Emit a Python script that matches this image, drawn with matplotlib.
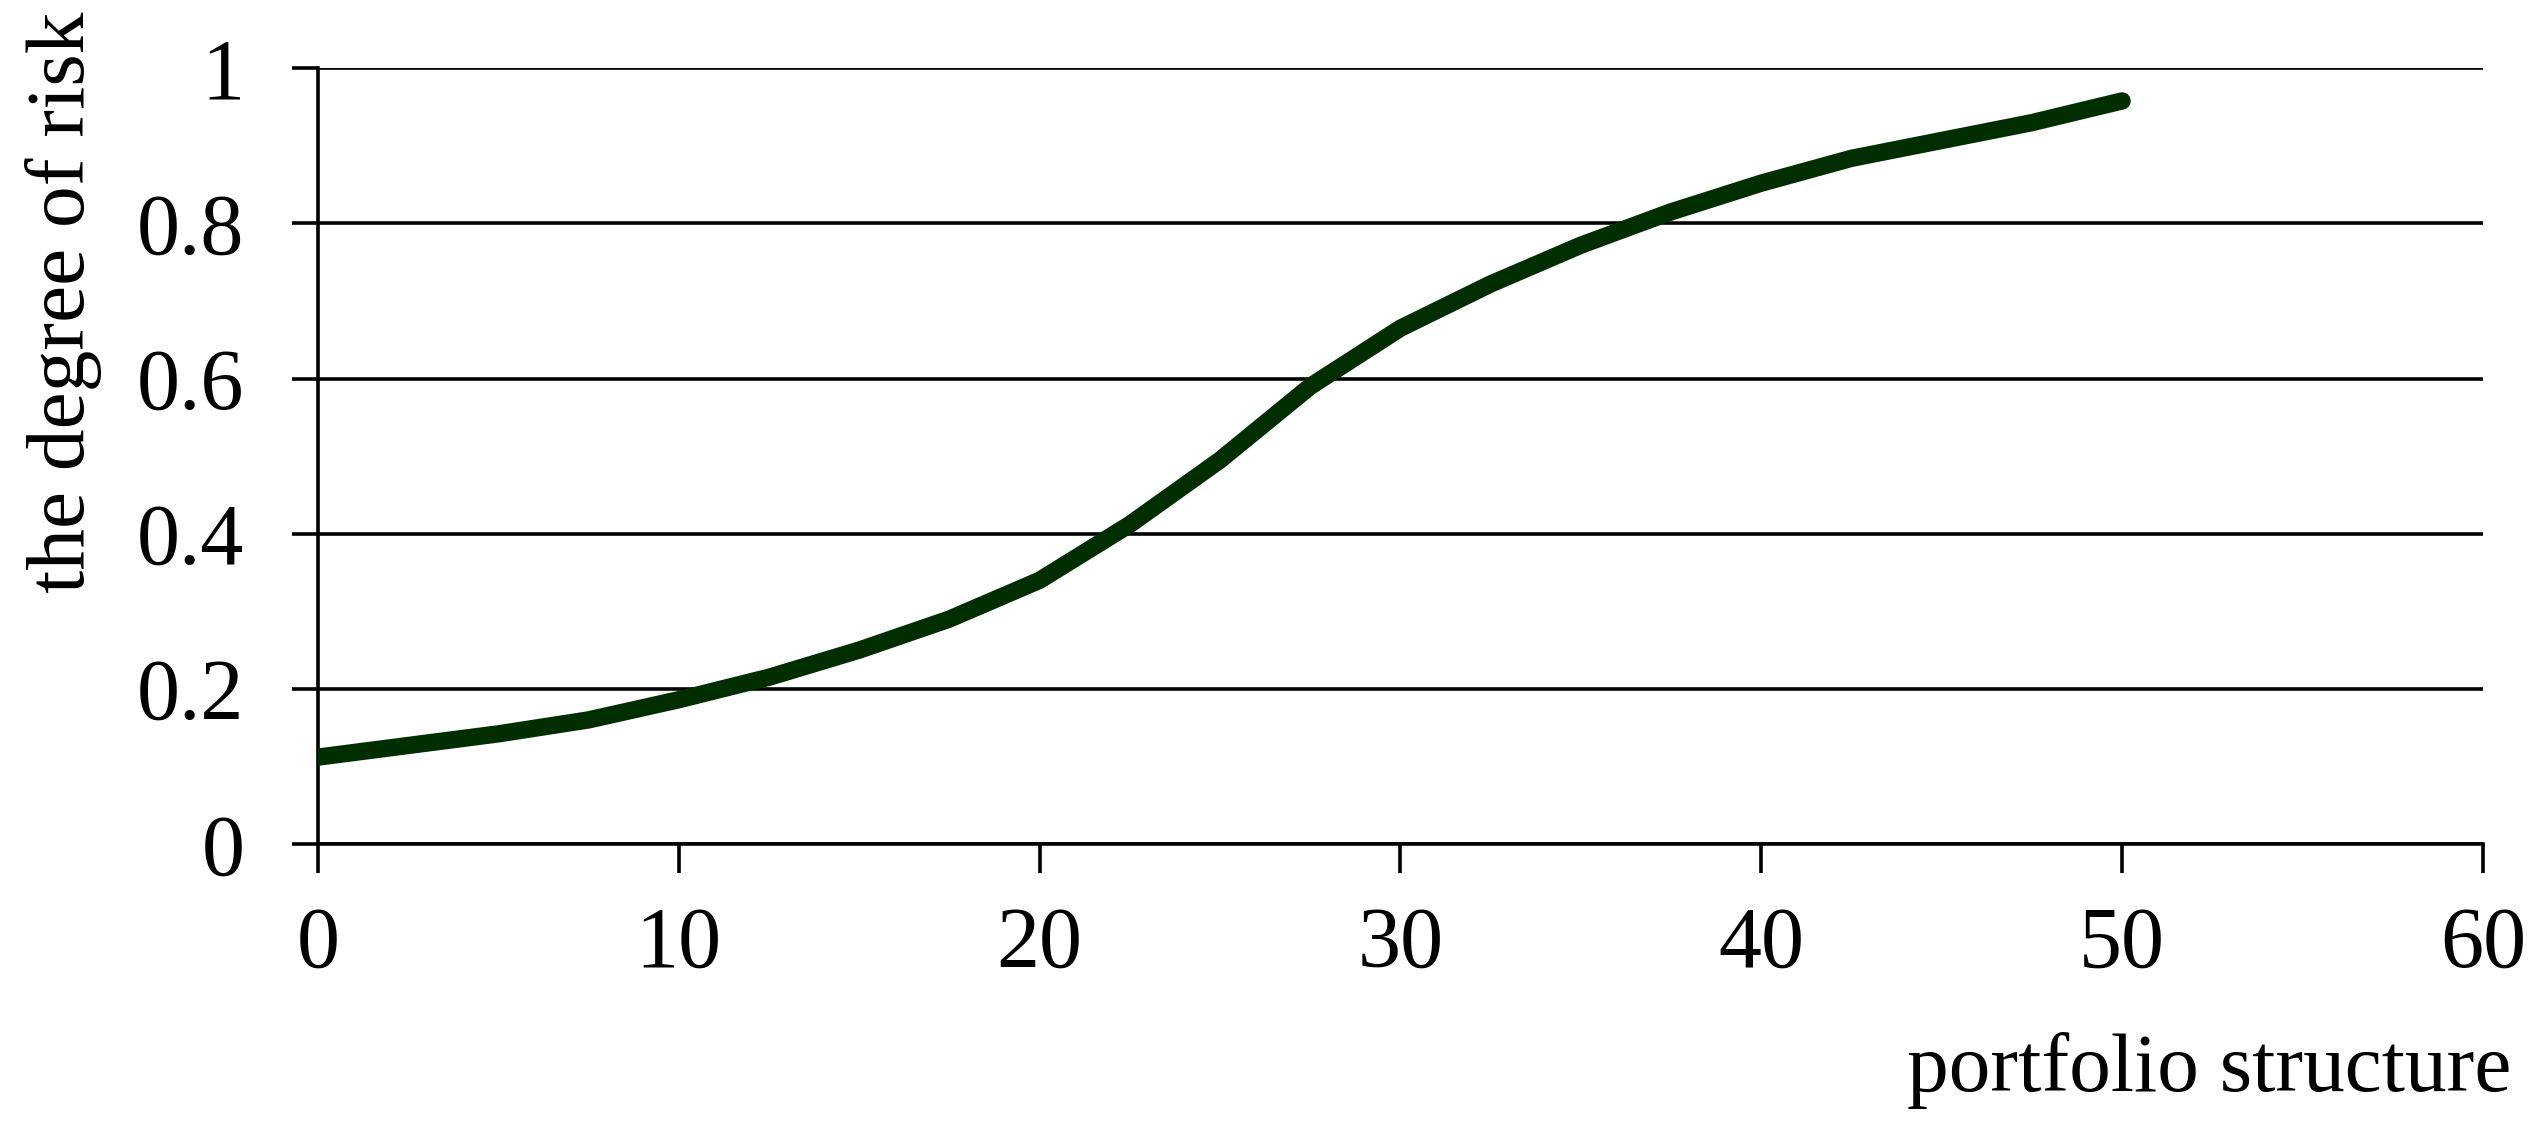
import matplotlib
matplotlib.use('Agg')
import matplotlib.pyplot as plt

# values
structure = [0, 2.5, 5, 7.5, 10, 12.5, 15, 17.5, 20, 22.5, 25,
             27.5, 30, 32.5, 35, 37.5, 40, 42.5, 45, 47.5, 50]
risk = [0.112, 0.127, 0.142, 0.160, 0.186, 0.215, 0.250, 0.290, 0.340, 0.412, 0.495,
        0.590, 0.665, 0.722, 0.772, 0.815, 0.852, 0.884, 0.907, 0.930, 0.958]

x_ticks = [0, 10, 20, 30, 40, 50, 60]
y_ticks = [0, 0.2, 0.4, 0.6, 0.8, 1]
y_tick_labels = ['0', '0.2', '0.4', '0.6', '0.8', '1']

plt.rcParams['font.family'] = ['Liberation Serif', 'DejaVu Serif']

fig = plt.figure(figsize=(25.44, 11.39), dpi=100)
ax = fig.add_axes([0.125, 0.259, 0.851, 0.681])

ax.plot(structure, risk, color='#002e00', linewidth=12.5,
        solid_capstyle='round', solid_joinstyle='round', zorder=3)

ax.set_xlim(0, 60)
ax.set_ylim(0, 1)
ax.set_xticks(x_ticks)
ax.set_yticks(y_ticks)
ax.set_yticklabels(y_tick_labels)
ax.yaxis.grid(True, color='black', linewidth=2.6)
ax.set_axisbelow(True)

for s in ['top', 'right']:
    ax.spines[s].set_visible(False)
ax.spines['left'].set_linewidth(2.6)
ax.spines['bottom'].set_linewidth(2.6)

ax.tick_params(axis='y', length=19, width=2.6, pad=34, labelsize=62)
ax.tick_params(axis='x', length=21, width=2.6, pad=24, labelsize=62)

fig.text(0.025, 0.735, 'the degree of risk', rotation=90, fontsize=60,
         ha='center', va='center')
fig.text(0.987, 0.06, 'portfolio structure', fontsize=60, ha='right', va='center')

fig.savefig('out.png', dpi=100)
